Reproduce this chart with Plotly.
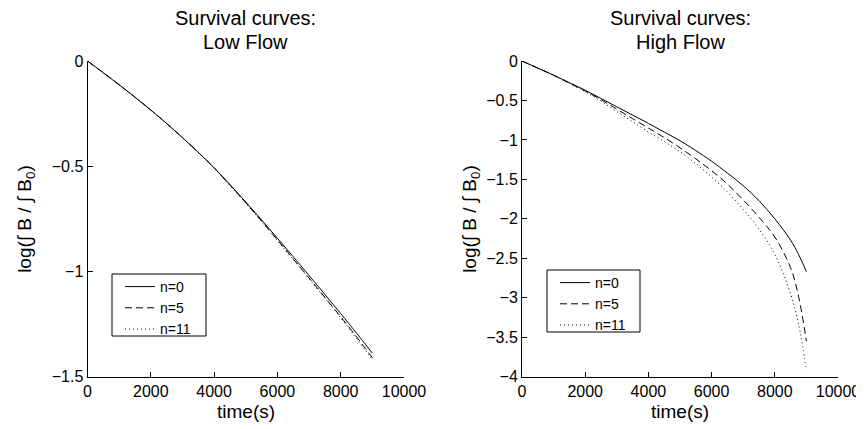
import plotly.graph_objects as go

# ---- data ----
time_s = [0, 500, 1000, 1500, 2000, 2500, 3000, 3500, 4000, 4500, 5000,
          5500, 6000, 6500, 7000, 7500, 8000, 8500, 8750, 9000]

low_n0 = [0, -0.056, -0.113, -0.172, -0.233, -0.297, -0.364, -0.434, -0.507, -0.587, -0.670,
          -0.755, -0.842, -0.930, -1.019, -1.109, -1.200, -1.293, -1.340, -1.388]
low_n5 = [0, -0.056, -0.113, -0.172, -0.233, -0.297, -0.364, -0.434, -0.508, -0.589, -0.673,
          -0.760, -0.850, -0.940, -1.031, -1.123, -1.215, -1.310, -1.360, -1.410]
low_n11 = [0, -0.056, -0.113, -0.172, -0.233, -0.297, -0.364, -0.435, -0.510, -0.592, -0.675,
           -0.764, -0.853, -0.944, -1.035, -1.127, -1.220, -1.318, -1.368, -1.420]

high_n0 = [0, -0.09, -0.18, -0.275, -0.37, -0.475, -0.58, -0.685, -0.79, -0.90, -1.01,
           -1.135, -1.27, -1.42, -1.58, -1.77, -2.00, -2.27, -2.45, -2.67]
high_n5 = [0, -0.09, -0.18, -0.28, -0.38, -0.49, -0.61, -0.73, -0.85, -0.97, -1.10,
           -1.24, -1.39, -1.56, -1.76, -1.98, -2.23, -2.62, -2.98, -3.55]
high_n11 = [0, -0.09, -0.18, -0.285, -0.39, -0.51, -0.64, -0.77, -0.90, -1.02, -1.15,
            -1.30, -1.47, -1.66, -1.88, -2.13, -2.45, -2.95, -3.33, -3.92]

series_names = ["n=0", "n=5", "n=11"]
title_line1 = "Survival curves:"
title_line2 = ["Low Flow", "High Flow"]
x_title = "time(s)"
y_title = "log(\u222B B / \u222B B<sub>0</sub>)"
x_ticks = [0, 2000, 4000, 6000, 8000, 10000]

# page body has an 8px margin, so the figure starts at (8, 8) of the window
OFF = 8
W, H = 864 - OFF, 429 - OFF
FONT = "Liberation Sans, Arial, sans-serif"
dashes = ["solid", "7px,4px", "1px,3px"]

fig = go.Figure()

for name, ys, d in zip(series_names, [low_n0, low_n5, low_n11], dashes):
    fig.add_trace(go.Scatter(x=time_s, y=ys, mode="lines", name=name,
                             line=dict(color="black", width=1, dash=d, shape="spline", smoothing=1.0),
                             xaxis="x", yaxis="y", legend="legend"))
for name, ys, d in zip(series_names, [high_n0, high_n5, high_n11], dashes):
    fig.add_trace(go.Scatter(x=time_s, y=ys, mode="lines", name=name,
                             line=dict(color="black", width=1, dash=d, shape="spline", smoothing=1.0),
                             xaxis="x2", yaxis="y2", legend="legend2"))

# pixel geometry in window coordinates
L1, R1 = 87.5, 404
L2, R2 = 522, 838
TOP, BOT = 61, 376.7
LEG1 = (112, 274, 206, 336)   # legend box: left, top, right, bottom
LEG2 = (547, 270, 640, 332)

def px(x):
    return (x - OFF) / W

def py(y):
    return (H - (y - OFF)) / H

axis_common = dict(showline=True, linecolor="black", linewidth=1, mirror=False,
                   ticks="inside", ticklen=5, tickcolor="black", tickwidth=1,
                   showgrid=False, zeroline=False, automargin=False,
                   tickfont=dict(family=FONT, size=16, color="black"))

legend_common = dict(xanchor="left", yanchor="top",
                     borderwidth=0, bgcolor="rgba(0,0,0,0)",
                     font=dict(family=FONT, size=14, color="black"),
                     tracegroupgap=0)

fig.update_layout(
    width=W, height=H,
    margin=dict(l=0, r=0, t=0, b=0, autoexpand=False),
    paper_bgcolor="white", plot_bgcolor="white",
    font=dict(family=FONT, size=16, color="black"),
    xaxis=dict(domain=[px(L1), px(R1)], range=[0, 10000], tickvals=x_ticks,
               tickformat="d", anchor="y", **axis_common),
    yaxis=dict(domain=[py(BOT), py(TOP)], range=[-1.5, 0], dtick=0.5,
               anchor="x", **axis_common),
    xaxis2=dict(domain=[px(L2), px(R2)], range=[0, 10000], tickvals=x_ticks,
                tickformat="d", anchor="y2", **axis_common),
    yaxis2=dict(domain=[py(BOT), py(TOP)], range=[-4, 0], dtick=0.5,
                anchor="x2", **axis_common),
    legend=dict(x=px(LEG1[0] + 8), y=py(LEG1[1] - 3), **legend_common),
    legend2=dict(x=px(LEG2[0] + 8), y=py(LEG2[1] - 3), **legend_common),
    showlegend=True,
)

shapes = []
for (l, t, r, b) in [LEG1, LEG2]:
    shapes.append(dict(type="rect", xref="paper", yref="paper",
                       x0=px(l), x1=px(r), y0=py(b), y1=py(t),
                       line=dict(color="black", width=1), fillcolor="white", layer="above"))
fig.update_layout(shapes=shapes)

annots = []
for t2, (l, r) in zip(title_line2, [(L1, R1), (L2, R2)]):
    cx = px((l + r) / 2)
    annots.append(dict(text=title_line1, x=cx, y=py(18.5), xref="paper", yref="paper",
                       xanchor="center", yanchor="middle", showarrow=False,
                       font=dict(family=FONT, size=20, color="black")))
    annots.append(dict(text=t2, x=cx, y=py(41.5), xref="paper", yref="paper",
                       xanchor="center", yanchor="middle", showarrow=False,
                       font=dict(family=FONT, size=20, color="black")))
    annots.append(dict(text=x_title, x=cx, y=py(411), xref="paper", yref="paper",
                       xanchor="center", yanchor="middle", showarrow=False,
                       font=dict(family=FONT, size=19, color="black")))
for cx in [26, 471]:
    annots.append(dict(text=y_title, x=px(cx), y=py((TOP + BOT) / 2), xref="paper", yref="paper",
                       xanchor="center", yanchor="middle", showarrow=False, textangle=-90,
                       font=dict(family=FONT, size=19, color="black")))
fig.update_layout(annotations=annots)

fig.write_html("out.html")
